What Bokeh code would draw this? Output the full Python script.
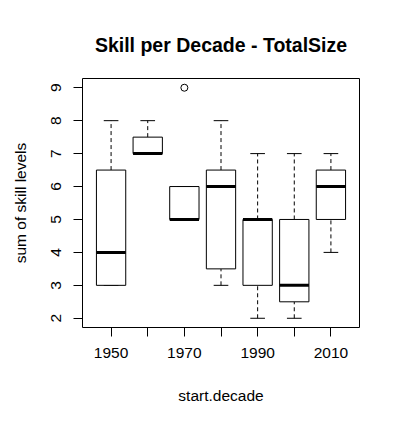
from bokeh.plotting import figure
from bokeh.models import Range1d, FixedTicker, ColumnDataSource
from bokeh.embed import file_html
from bokeh.resources import INLINE

decades = ["1950", "1960", "1970", "1980", "1990", "2000", "2010"]
whisker_low = [3, 7, 5, 3, 2, 2, 4]
q1 = [3, 7, 5, 3.5, 3, 2.5, 5]
median = [4, 7, 5, 6, 5, 3, 6]
q3 = [6.5, 7.5, 6, 6.5, 5, 5, 6.5]
whisker_high = [8, 8, 6, 8, 7, 7, 7]
outlier_decades = ["1970"]
outlier_values = [9]
shown_tick_labels = ["1950", "", "1970", "", "1990", "", "2010"]
y_ticks = [2, 3, 4, 5, 6, 7, 8, 9]

FONT = "Liberation Sans"
pos = [i + 1 for i in range(len(decades))]
box_w = 0.8
cap_w = 0.4

src = ColumnDataSource(dict(
    x=pos, lo=whisker_low, q1=q1, med=median, q3=q3, hi=whisker_high,
    bl=[x - box_w / 2 for x in pos], br=[x + box_w / 2 for x in pos],
    cl=[x - cap_w / 2 for x in pos], cr=[x + cap_w / 2 for x in pos],
))

p = figure(width=390, height=415, output_backend="svg", toolbar_location=None,
           x_range=Range1d(0.22, 7.78), y_range=Range1d(1.72, 9.28),
           min_border_left=82, min_border_right=31, min_border_top=78, min_border_bottom=88)

p.background_fill_color = "white"
p.border_fill_color = "white"
p.outline_line_color = "black"
p.outline_line_width = 1
p.grid.visible = False

p.title.text = "Skill per Decade - TotalSize"
p.title.align = "center"
p.title.text_font = FONT
p.title.text_font_size = "19.5px"
p.title.text_font_style = "bold"
p.title.text_color = "black"
p.title.standoff = 45

# whiskers
p.segment(x0="x", y0="q3", x1="x", y1="hi", source=src, line_color="black", line_width=1, line_dash="4 3")
p.segment(x0="x", y0="lo", x1="x", y1="q1", source=src, line_color="black", line_width=1, line_dash="4 3")
# caps
p.segment(x0="cl", y0="hi", x1="cr", y1="hi", source=src, line_color="black", line_width=1)
p.segment(x0="cl", y0="lo", x1="cr", y1="lo", source=src, line_color="black", line_width=1)
# boxes
p.quad(left="bl", right="br", bottom="q1", top="q3", source=src,
       fill_color="white", line_color="black", line_width=1)
# medians
p.segment(x0="bl", y0="med", x1="br", y1="med", source=src, line_color="black", line_width=3)
# outliers
out_x = [pos[decades.index(d)] for d in outlier_decades]
p.scatter(out_x, outlier_values, marker="circle", size=7, fill_color=None, line_color="black", line_width=1)

xa = p.xaxis[0]
xa.ticker = FixedTicker(ticks=pos)
xa.major_label_overrides = {x: lab for x, lab in zip(pos, shown_tick_labels)}
xa.axis_label = "start.decade"

ya = p.yaxis[0]
ya.ticker = FixedTicker(ticks=y_ticks)
ya.axis_label = "sum of skill levels"
ya.major_label_orientation = "parallel"

for ax in (xa, ya):
    ax.axis_line_color = None
    ax.major_tick_out = 9
    ax.major_tick_in = 0
    ax.major_tick_line_color = "black"
    ax.minor_tick_line_color = None
    ax.major_label_text_font = FONT
    ax.major_label_text_font_size = "15.5px"
    ax.major_label_text_color = "black"
    ax.axis_label_text_font = FONT
    ax.axis_label_text_font_size = "15.5px"
    ax.axis_label_text_font_style = "normal"
    ax.axis_label_text_color = "black"

xa.major_label_standoff = 11
xa.axis_label_standoff = 26
ya.major_label_standoff = 12
ya.axis_label_standoff = 20

open("out.html", "w").write(file_html(p, INLINE))
